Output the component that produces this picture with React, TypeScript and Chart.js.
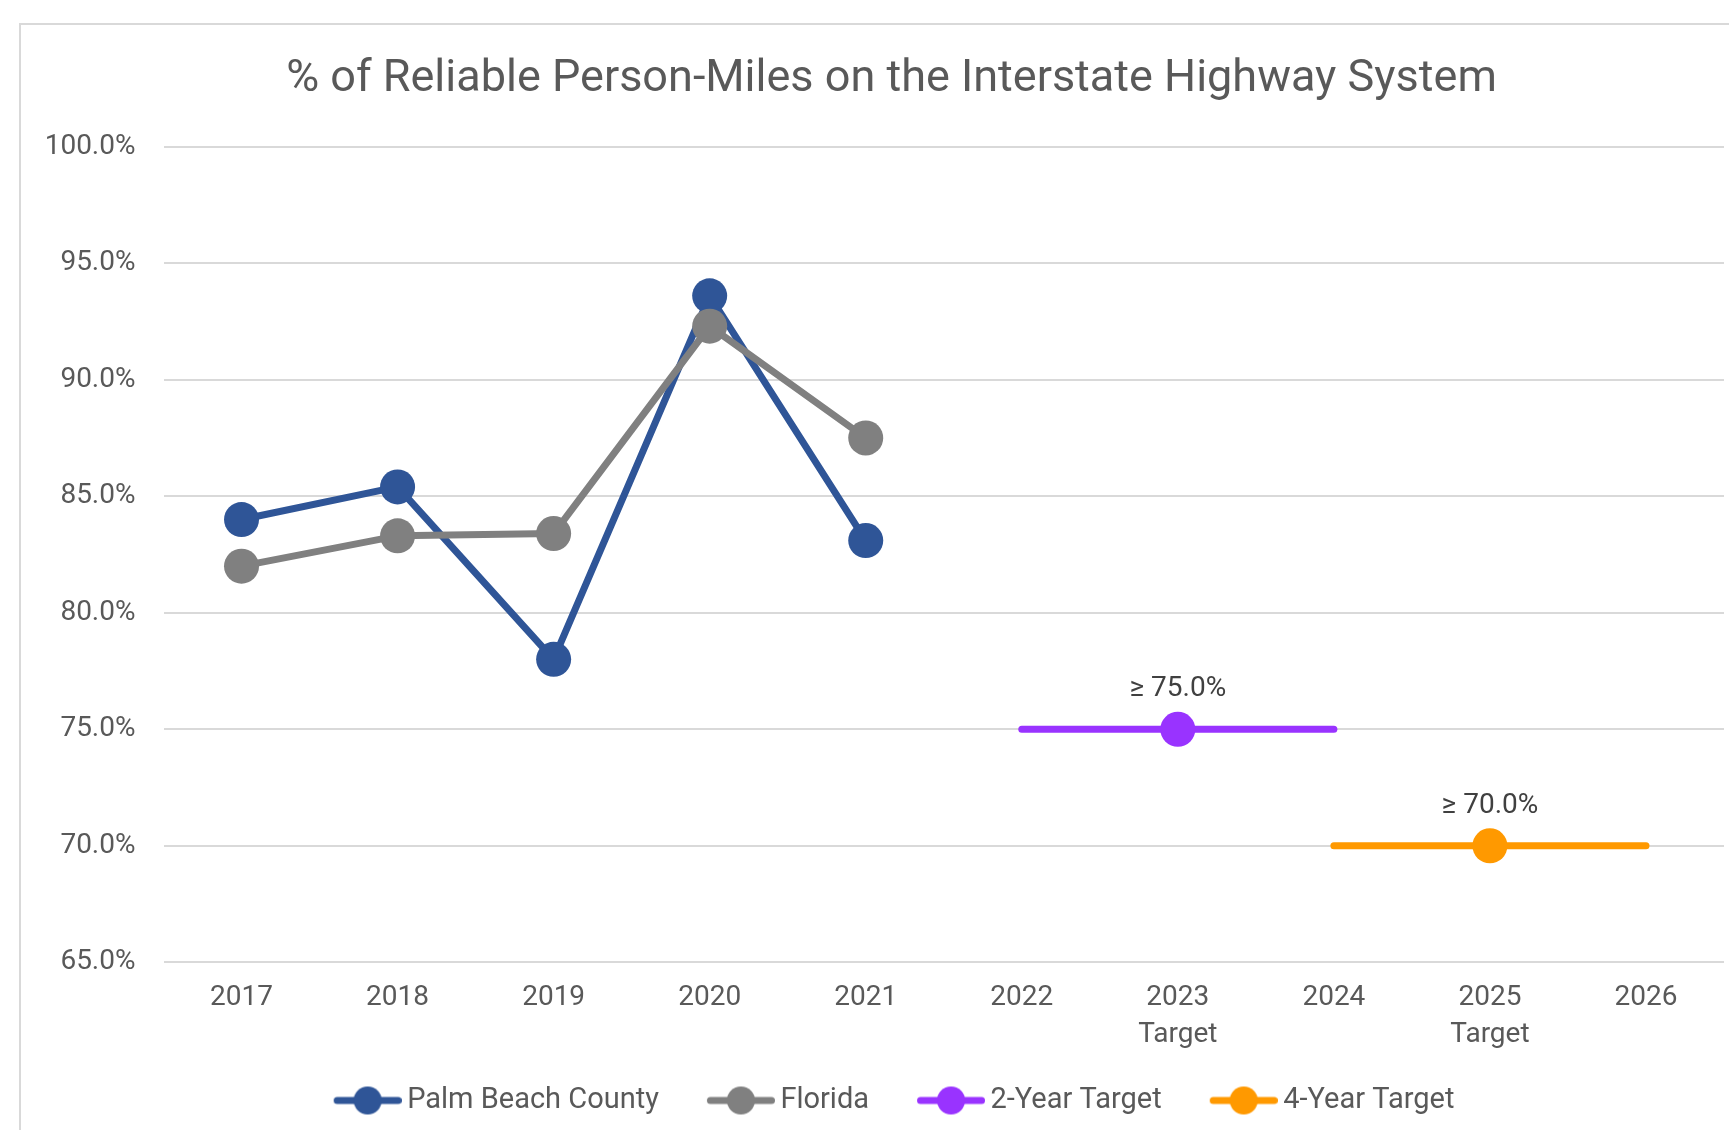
import React, { useEffect, useRef } from "react";
import { Chart, registerables } from "chart.js";

Chart.register(...registerables);

const categories: (string | string[])[] = [
  "2017", "2018", "2019", "2020", "2021", "2022",
  ["2023", "Target"], "2024", ["2025", "Target"], "2026",
];
const palmBeach = [84.0, 85.4, 78.0, 93.6, 83.1, null, null, null, null, null];
const florida = [82.0, 83.3, 83.4, 92.3, 87.5, null, null, null, null, null];
const twoYearTarget = [null, null, null, null, null, 75, 75, 75, null, null];
const fourYearTarget = [null, null, null, null, null, null, null, 70, 70, 70];
const twoYearPointIndex = 6;
const fourYearPointIndex = 8;
const targetLabels = ["≥ 75.0%", "≥ 70.0%"];
const seriesNames = ["Palm Beach County", "Florida", "2-Year Target", "4-Year Target"];
const seriesColors = ["#2F5597", "#808080", "#9933FF", "#FF9900"];
const yTicks = { min: 65, max: 100, step: 5 };

const FONT = "Roboto, 'Noto Sans', sans-serif";
const TEXT = "#595959";

function legendImage(color: string): HTMLCanvasElement {
  const c = document.createElement("canvas");
  c.width = 115;
  c.height = 30;
  const ctx = c.getContext("2d")!;
  ctx.strokeStyle = color;
  ctx.lineWidth = 7;
  ctx.lineCap = "round";
  ctx.beginPath();
  ctx.moveTo(50.5, 15);
  ctx.lineTo(111.5, 15);
  ctx.stroke();
  ctx.fillStyle = color;
  ctx.beginPath();
  ctx.arc(81, 15, 14, 0, Math.PI * 2);
  ctx.fill();
  return c;
}

function radii(len: number, idx: number, r: number) {
  return Array.from({ length: len }, (_, i) => (i === idx ? r : 0));
}

export default function App() {
  const ref = useRef<HTMLCanvasElement | null>(null);

  useEffect(() => {
    if (!ref.current) return;
    const labelPlugin = {
      id: "targetLabels",
      afterLayout(chart: any) {
        if (chart.titleBlock) {
          chart.titleBlock.left += 19.5;
          chart.titleBlock.right += 19.5;
        }
        if (chart.legend) {
          chart.legend.left += 3;
          chart.legend.right += 3;
        }
      },
      afterDatasetsDraw(chart: any) {
        const ctx = chart.ctx;
        const pts = [
          { ds: 2, i: twoYearPointIndex, t: targetLabels[0] },
          { ds: 3, i: fourYearPointIndex, t: targetLabels[1] },
        ];
        ctx.save();
        ctx.font = `28px ${FONT}`;
        ctx.fillStyle = "#404040";
        ctx.textAlign = "center";
        ctx.textBaseline = "middle";
        for (const p of pts) {
          const el = chart.getDatasetMeta(p.ds).data[p.i];
          if (el) ctx.fillText(p.t, el.x, el.y - 40);
        }
        ctx.restore();
      },
    };

    const lineCommon = {
      borderWidth: 7,
      tension: 0,
      pointBorderWidth: 0,
      borderCapStyle: "round" as const,
      borderJoinStyle: "round" as const,
      spanGaps: false,
    };

    const chart = new Chart(ref.current, {
      type: "line",
      data: {
        labels: categories,
        datasets: [
          {
            ...lineCommon,
            label: seriesNames[0],
            data: palmBeach,
            borderColor: seriesColors[0],
            backgroundColor: seriesColors[0],
            pointRadius: 17.5,
            order: 1,
          },
          {
            ...lineCommon,
            label: seriesNames[1],
            data: florida,
            borderColor: seriesColors[1],
            backgroundColor: seriesColors[1],
            pointRadius: 17.5,
            order: 0,
          },
          {
            ...lineCommon,
            label: seriesNames[2],
            data: twoYearTarget,
            borderColor: seriesColors[2],
            backgroundColor: seriesColors[2],
            pointRadius: radii(categories.length, twoYearPointIndex, 17.5),
            order: 2,
          },
          {
            ...lineCommon,
            label: seriesNames[3],
            data: fourYearTarget,
            borderColor: seriesColors[3],
            backgroundColor: seriesColors[3],
            pointRadius: radii(categories.length, fourYearPointIndex, 17.5),
            order: 3,
          },
        ],
      },
      options: {
        responsive: false,
        animation: false,
        layout: { autoPadding: false, padding: { left: 20, right: 5, top: 24, bottom: 5 } },
        plugins: {
          tooltip: { enabled: false },
          title: {
            display: true,
            text: "% of Reliable Person-Miles on the Interstate Highway System",
            color: TEXT,
            font: { family: FONT, size: 45, weight: "normal", lineHeight: 1.2 },
            padding: { top: 28.3, bottom: 40.4 },
          },
          legend: {
            position: "bottom",
            labels: {
              usePointStyle: true,
              pointStyleWidth: 97,
              padding: 10,
              color: TEXT,
              font: { family: FONT, size: 29 },
              generateLabels: () =>
                seriesNames.map((name, i) => ({
                  text: name,
                  fillStyle: seriesColors[i],
                  strokeStyle: seriesColors[i],
                  lineWidth: 0,
                  pointStyle: legendImage(seriesColors[i]) as any,
                  hidden: false,
                  datasetIndex: i,
                  fontColor: TEXT,
                })),
            },
          },
        },
        scales: {
          x: {
            offset: true,
            grid: { display: false, drawTicks: false, offset: true },
            border: { display: false },
            ticks: {
              color: TEXT,
              padding: 17.4,
              maxRotation: 0,
              autoSkip: false,
              font: { family: FONT, size: 28, lineHeight: 1.32 },
            },
            afterFit: (s: any) => {
              s.height = 113.7;
              s.paddingLeft = 0;
              s.paddingRight = 0;
            },
          },
          y: {
            min: yTicks.min,
            max: yTicks.max,
            grid: { color: "#D9D9D9", lineWidth: 2, drawTicks: false },
            border: { display: false },
            ticks: {
              stepSize: yTicks.step,
              padding: 28,
              color: TEXT,
              font: { family: FONT, size: 28 },
              callback: (v: any) => Number(v).toFixed(1) + "%",
            },
            afterFit: (s: any) => {
              s.width = 143.5;
              s.paddingTop = 0;
              s.paddingBottom = 0;
            },
          },
        },
      },
      plugins: [labelPlugin],
    });
    return () => chart.destroy();
  }, []);

  return (
    <div
      style={{
        position: "fixed",
        left: 0,
        top: 0,
        width: 1729,
        height: 1130,
        overflow: "hidden",
        background: "#ffffff",
      }}
    >
      <div
        style={{
          position: "absolute",
          left: 19,
          top: 23,
          width: 2000,
          height: 2000,
          border: "2px solid #D9D9D9",
        }}
      />
      <canvas
        ref={ref}
        width={1729}
        height={1130}
        style={{ position: "absolute", left: 0, top: 0, width: 1729, height: 1130 }}
      />
    </div>
  );
}
